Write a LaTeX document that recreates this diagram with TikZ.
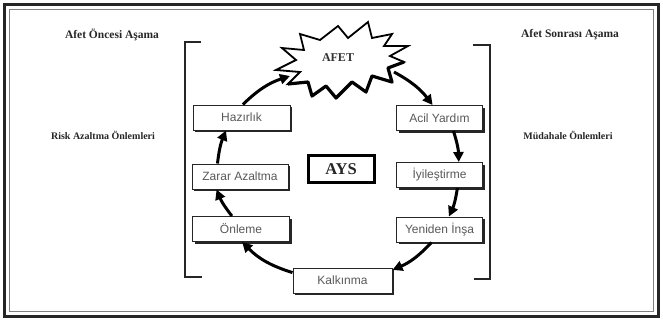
\documentclass[tikz,border=0pt]{standalone}
\usepackage{fontspec}
\setmainfont{Liberation Serif}
\newfontfamily\boxfont{Liberation Sans}
\usetikzlibrary{arrows.meta,shadows}
\begin{document}
\begin{tikzpicture}[x=1pt,y=-1pt,
  stagebox/.style={draw=black!85, line width=1pt, fill=white,
    minimum height=25pt, inner sep=0pt, text=black!65,
    font=\boxfont\fontsize{12}{14}\selectfont,
    drop shadow={shadow xshift=2pt, shadow yshift=-2pt, fill=black!85, opacity=1}},
  heading/.style={font=\bfseries\fontsize{11.5}{13}\selectfont, text=black!85},
  subheading/.style={font=\bfseries\fontsize{10}{12}\selectfont, text=black!85},
  cyclearrow/.style={line width=3pt, -{Triangle[length=10pt,width=10pt]}},
  bracketline/.style={line width=1.3pt, draw=black!85},
  starline/.style={line width=1.8pt, line join=miter, fill=white},
]
\useasboundingbox (0,0) rectangle (663,321);
% frame
\draw[line width=3.5pt, black!85] (4.5,4.5) rectangle (658.5,316.5);
\draw[line width=0.7pt, black!50] (9.5,9.5) rectangle (653.5,311.5);

% headings
\node[heading] (pre) at (112,35) {Afet Öncesi Aşama};
\node[heading] (post) at (570,35) {Afet Sonrası Aşama};
\node[subheading] (risk) at (103,135) {Risk Azaltma Önlemleri};
\node[subheading] (mud) at (568,135) {Müdahale Önlemleri};

% brackets
\draw[bracketline] (201,42) -- (185,42) -- (185,277) -- (202,277);
\draw[bracketline] (473,45) -- (490,45) -- (490,279) -- (474,279);

% starburst
\draw[starline] (282,48) -- (304,50) -- (300,34) -- (320,40) -- (338,26) -- (348,38)
  -- (368,22) -- (372,38) -- (392,34) -- (384,46) -- (408,46) -- (390,56)
  -- (404,62) -- (388,68) -- (392,82) -- (372,76) -- (366,92) -- (352,82)
  -- (336,98) -- (326,86) -- (312,96) -- (308,82) -- (288,84) -- (300,72)
  -- (276,70) -- (296,60) -- cycle;
\draw[line width=3.2pt, line join=round] (404,62) -- (388,68) -- (392,82) -- (372,76)
  -- (366,92) -- (352,82) -- (336,98) -- (326,86) -- (312,96) -- (308,82) -- (288,84);
\node[font=\bfseries\fontsize{12}{14}\selectfont, text=black!80] (afet) at (338,58) {AFET};
\coordinate (afetin) at (290,76);
\coordinate (afetout) at (394,72);

% stage boxes
\node[stagebox, minimum width=97pt] (hazirlik) at (241.5,117.5) {Hazırlık};
\node[stagebox, minimum width=96pt] (zarar) at (240,176.5) {Zarar Azaltma};
\node[stagebox, minimum width=97pt] (onleme) at (241,229) {Önleme};
\node[stagebox, minimum width=86pt] (acil) at (439.5,118) {Acil Yardım};
\node[stagebox, minimum width=86pt] (iyil) at (439.5,175) {İyileştirme};
\node[stagebox, minimum width=86pt] (yeniden) at (439.5,229.5) {Yeniden İnşa};
\node[stagebox, minimum width=99pt] (kalk) at (342.5,280.5) {Kalkınma};

% AYS
\node[draw, line width=3pt, minimum width=66pt, minimum height=27pt, inner sep=0pt,
  font=\bfseries\fontsize{16.5}{18}\selectfont, text=black!85] (ays) at (341,169) {AYS};

% cycle arrows
\draw[cyclearrow] (afetout) to[bend left=12] (acil.118);
\draw[cyclearrow] (acil.-43) to[bend left=8] (iyil.34);
\draw[cyclearrow] (iyil.-36) to[bend left=8] (yeniden.54);
\draw[cyclearrow] (yeniden.-122) to[bend left=12] (kalk.12);
\draw[cyclearrow] (kalk.171) to[bend left=14] (onleme.-85);
\draw[cyclearrow] (onleme.125) to[bend left=8] (zarar.-151);
\draw[cyclearrow] (zarar.150) to[bend left=8] (hazirlik.-140);
\draw[cyclearrow] (hazirlik.84) to[bend left=13] (afetin);
\end{tikzpicture}
\end{document}
